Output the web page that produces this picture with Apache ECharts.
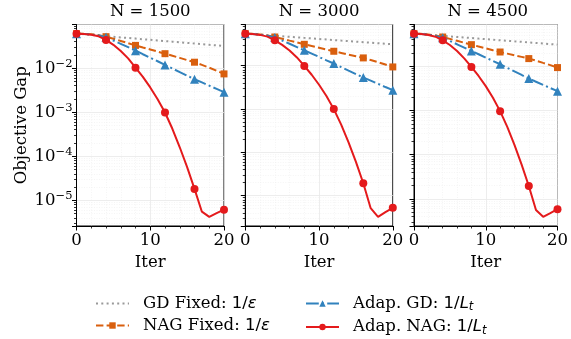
<!DOCTYPE html>
<html>
<head>
<meta charset="utf-8">
<script src="https://cdn.jsdelivr.net/npm/echarts@6/dist/echarts.min.js"></script>
<style>
  html, body { margin: 0; padding: 0; background: #fff; }
  #chart { width: 571px; height: 339px; }
</style>
</head>
<body>
<div id="chart"></div>
<script>
const iters = [0, 1, 2, 3, 4, 5, 6, 7, 8, 9, 10, 11, 12, 13, 14, 15, 16, 17, 18, 19, 20];
const panelTitles = ['N = 1500', 'N = 3000', 'N = 4500'];
const seriesNames = ['GD Fixed', 'NAG Fixed', 'Adap. GD', 'Adap. NAG'];

// N = 1500
const gdFixed1 = [0.0610, 0.0590, 0.0571, 0.0553, 0.0536, 0.0519, 0.0502, 0.0486, 0.0471, 0.0456, 0.0442, 0.0428, 0.0414, 0.0401, 0.0388, 0.0376, 0.0364, 0.0352, 0.0341, 0.0330, 0.0320];
const nagFixed1 = [0.0610, 0.0606, 0.0594, 0.0565, 0.0521, 0.0468, 0.0417, 0.0370, 0.0330, 0.0296, 0.0267, 0.0239, 0.0214, 0.0192, 0.0172, 0.0153, 0.0137, 0.0119, 0.0103, 0.00879, 0.00743];
const adapGd1 = [0.0610, 0.0603, 0.0583, 0.0552, 0.0505, 0.0427, 0.0359, 0.0301, 0.0251, 0.0208, 0.0173, 0.0144, 0.0119, 0.00986, 0.00818, 0.00679, 0.00562, 0.00475, 0.00401, 0.00339, 0.00286];
const adapNag1 = [0.0610, 0.0601, 0.0578, 0.0531, 0.0439, 0.0340, 0.0247, 0.0167, 0.0103, 0.00637, 0.00366, 0.00197, 0.000986, 0.000421, 0.000160, 5.68e-5, 1.81e-5, 5.5e-6, 4.2e-6, 5.1e-6, 6.1e-6];

// N = 3000
const gdFixed2 = [0.0548, 0.0533, 0.0519, 0.0504, 0.0490, 0.0476, 0.0462, 0.0450, 0.0438, 0.0425, 0.0413, 0.0402, 0.0390, 0.0379, 0.0369, 0.0358, 0.0348, 0.0339, 0.0329, 0.0320, 0.0311];
const nagFixed2 = [0.0548, 0.0543, 0.0527, 0.0498, 0.0459, 0.0417, 0.0378, 0.0343, 0.0311, 0.0284, 0.0259, 0.0236, 0.0215, 0.0197, 0.0180, 0.0165, 0.0151, 0.0135, 0.0120, 0.0106, 0.00935];
const adapGd2 = [0.0548, 0.0540, 0.0520, 0.0490, 0.0447, 0.0380, 0.0320, 0.0269, 0.0226, 0.0190, 0.0159, 0.0133, 0.0112, 0.00929, 0.00771, 0.00641, 0.00532, 0.00450, 0.00380, 0.00321, 0.00272];
const adapNag2 = [0.0548, 0.0537, 0.0513, 0.0468, 0.0385, 0.0302, 0.0224, 0.0155, 0.00986, 0.00617, 0.00363, 0.00200, 0.000993, 0.000437, 0.000170, 6.03e-5, 1.93e-5, 5.13e-6, 3.24e-6, 4.17e-6, 5.22e-6];

// N = 4500
const gdFixed3 = [0.0546, 0.0531, 0.0515, 0.0501, 0.0486, 0.0473, 0.0460, 0.0447, 0.0435, 0.0422, 0.0410, 0.0399, 0.0387, 0.0377, 0.0366, 0.0356, 0.0346, 0.0336, 0.0327, 0.0317, 0.0308];
const nagFixed3 = [0.0546, 0.0541, 0.0525, 0.0498, 0.0459, 0.0416, 0.0376, 0.0340, 0.0308, 0.0280, 0.0255, 0.0231, 0.0210, 0.0193, 0.0177, 0.0163, 0.0149, 0.0134, 0.0119, 0.0106, 0.00933];
const adapGd3 = [0.0546, 0.0537, 0.0518, 0.0486, 0.0444, 0.0373, 0.0314, 0.0264, 0.0222, 0.0187, 0.0157, 0.0132, 0.0111, 0.00920, 0.00766, 0.00635, 0.00527, 0.00447, 0.00379, 0.00321, 0.00273];
const adapNag3 = [0.0546, 0.0535, 0.0511, 0.0466, 0.0385, 0.0302, 0.0221, 0.0151, 0.00966, 0.00603, 0.00355, 0.00193, 0.000966, 0.000427, 0.000166, 5.96e-5, 1.96e-5, 5.62e-6, 3.93e-6, 4.79e-6, 5.85e-6];

const panels = [
  [gdFixed1, nagFixed1, adapGd1, adapNag1],
  [gdFixed2, nagFixed2, adapGd2, adapNag2],
  [gdFixed3, nagFixed3, adapGd3, adapNag3]
];

const serif = 'DejaVu Serif';
const fs = 16.5;
const gridLefts = [76.5, 245.3, 414];
const gridTop = 24.5, gridW = 147.5, gridH = 201.5;

// line looks, matplotlib-ish dash patterns at lw 2
const looks = [
  { color: '#999999', dash: [2, 3.3], symbol: 'none', size: 0 },
  { color: '#d95f0e', dash: [7.4, 3.2], symbol: 'rect', size: 7 },
  { color: '#3182bd', dash: [12.8, 3.2, 2, 3.2], symbol: 'triangle', size: 9 },
  { color: '#e41a1c', dash: 'solid', symbol: 'circle', size: 8 }
];

// 10^n tick labels, only on whole decades
function powLabel(v) {
  const e = Math.log10(v);
  const r = Math.round(e);
  if (Math.abs(e - r) > 1e-6) return '';
  return '{b|10}{e|' + String(r).replace('-', '\u2212') + '}';
}
const powRich = {
  b: { fontFamily: serif, fontSize: fs, lineHeight: 20, color: '#000' },
  e: { fontFamily: serif, fontSize: 11.5, lineHeight: 12, verticalAlign: 'top', color: '#000' }
};
// matplotlib style autoscale: 5% margin in log space
function logPad(ext, lo) {
  const a = Math.log10(ext.min), b = Math.log10(ext.max), m = (b - a) * 0.05;
  return Math.pow(10, lo ? a - m : b + m);
}

let chartDom = document.getElementById('chart');
let myChart = echarts.init(chartDom, null, { renderer: 'canvas' });

const grid = [], xAxis = [], yAxis = [], series = [], title = [];
panels.forEach((vals, p) => {
  grid.push({ left: gridLefts[p], top: gridTop, width: gridW, height: gridH, show: true, borderColor: '#000', borderWidth: 1, containLabel: false });
  title.push({
    text: panelTitles[p], left: gridLefts[p] + gridW / 2, top: 3, textAlign: 'center', padding: 0,
    textStyle: { fontFamily: serif, fontSize: fs, fontWeight: 'normal', color: '#000' }
  });
  xAxis.push({
    type: 'value', gridIndex: p, min: 0, max: 20, interval: 10,
    name: 'Iter', nameLocation: 'middle', nameGap: 24,
    nameTextStyle: { fontFamily: serif, fontSize: fs, color: '#000' },
    axisLine: { show: true, lineStyle: { color: '#000', width: 1 } },
    axisTick: { show: true, length: 4.5, lineStyle: { color: '#000', width: 1 } },
    minorTick: { show: true, splitNumber: 5, length: 2.5, lineStyle: { color: '#000', width: 0.8 } },
    axisLabel: { fontFamily: serif, fontSize: fs, color: '#000', margin: 6, showMaxLabel: true, showMinLabel: true },
    splitLine: { show: true, lineStyle: { color: '#e8e8e8', width: 0.8 } },
    minorSplitLine: { show: true, lineStyle: { color: '#eeeeee', width: 0.6, type: [1, 1.5] } }
  });
  yAxis.push({
    type: 'log', logBase: 10, gridIndex: p,
    min: v => logPad(v, true), max: v => logPad(v, false),
    name: p === 0 ? 'Objective Gap' : '', nameLocation: 'middle', nameGap: 46,
    nameTextStyle: { fontFamily: serif, fontSize: fs, color: '#000' },
    axisLine: { show: true, lineStyle: { color: '#000', width: 1 } },
    axisTick: { show: true, length: 4.5, lineStyle: { color: '#000', width: 1 } },
    minorTick: { show: true, splitNumber: 9, length: 2.5, lineStyle: { color: '#000', width: 0.8 } },
    axisLabel: { show: p === 0, color: '#000', margin: 4, formatter: powLabel, rich: powRich },
    splitLine: { show: true, lineStyle: { color: '#e8e8e8', width: 0.8 } },
    minorSplitLine: { show: true, lineStyle: { color: '#eeeeee', width: 0.6, type: [1, 1.5] } }
  });
  vals.forEach((ys, k) => {
    const lk = looks[k];
    series.push({
      type: 'line', name: seriesNames[k], xAxisIndex: p, yAxisIndex: p,
      data: iters.map((x, i) => ({ value: [x, ys[i]], symbolSize: i % 4 === 0 ? lk.size : 0 })),
      symbol: lk.symbol, symbolSize: lk.size, showSymbol: lk.symbol !== 'none', showAllSymbol: true,
      lineStyle: { color: lk.color, width: 2, type: lk.dash },
      itemStyle: { color: lk.color },
      emphasis: { disabled: true }, z: 2 + k, clip: true
    });
  });
});

const legendRich = {
  t: { fontFamily: serif, fontSize: fs, lineHeight: 20, color: '#000', padding: [0, 0, 0, 9] },
  m: { fontFamily: 'DejaVu Sans', fontSize: fs, lineHeight: 20, color: '#000' },
  i: { fontFamily: 'DejaVu Sans', fontStyle: 'italic', fontSize: fs, lineHeight: 20, color: '#000' },
  s: { fontFamily: 'DejaVu Sans', fontStyle: 'italic', fontSize: 11.5, lineHeight: 12, verticalAlign: 'bottom', color: '#000' }
};
function legendText(name) {
  if (name.indexOf('Fixed') >= 0) return '{t|' + name + ': }{m|1/}{i|\u03b5}';
  return '{t|' + name + ': }{m|1/}{i|L}{s|t}';
}
const legendBase = {
  orient: 'vertical', top: 295, itemGap: 5, itemWidth: 33, itemHeight: 8, padding: 0,
  formatter: legendText, textStyle: { rich: legendRich }, selectedMode: false
};
const noMarker = { color: 'rgba(0,0,0,0)', borderWidth: 0 };

let option = {
  animation: false,
  backgroundColor: '#fff',
  title: title,
  grid: grid,
  xAxis: xAxis,
  yAxis: yAxis,
  legend: [
    Object.assign({}, legendBase, { left: 95, data: [{ name: 'GD Fixed', itemStyle: noMarker }, 'NAG Fixed'] }),
    Object.assign({}, legendBase, { left: 305, data: ['Adap. GD', 'Adap. NAG'] })
  ],
  series: series
};
option && myChart.setOption(option);
</script>
</body>
</html>
